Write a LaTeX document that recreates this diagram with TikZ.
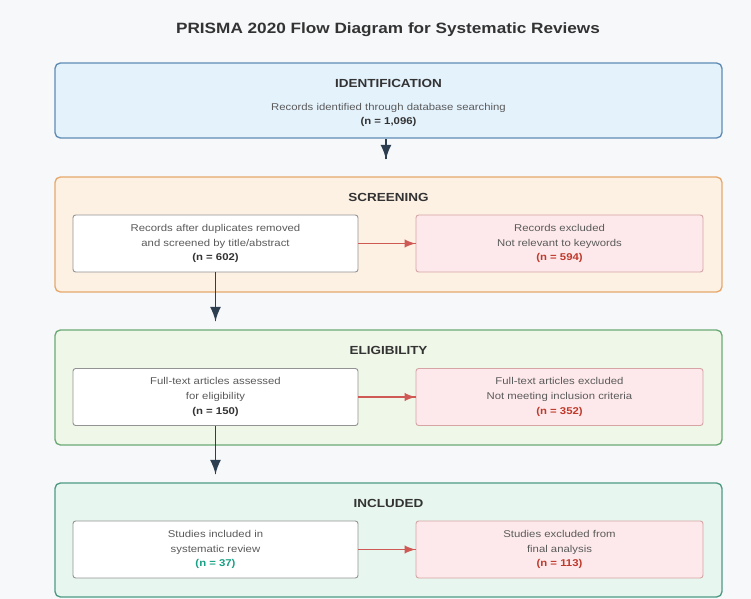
\documentclass[tikz,border=0pt]{standalone}
\usepackage{fontspec}
\setmainfont{Liberation Sans}[FakeStretch=1.15]
\usepackage{tikz}
\usetikzlibrary{arrows}
\usetikzlibrary{decorations.markings}
\usetikzlibrary{positioning}
\definecolor{bggray}{HTML}{F7F8FA}
\definecolor{navy}{HTML}{2C3E50}
\definecolor{darkgray}{HTML}{333333}
\definecolor{txtgray}{HTML}{5A5A5A}
\definecolor{idfill}{HTML}{E4F2FC}
\definecolor{iddraw}{HTML}{5E8CB4}
\definecolor{scfill}{HTML}{FDF1E4}
\definecolor{scdraw}{HTML}{E6A86C}
\definecolor{elfill}{HTML}{EFF7E8}
\definecolor{eldraw}{HTML}{6CAA76}
\definecolor{infill}{HTML}{E7F6EE}
\definecolor{indraw}{HTML}{4E9A84}
\definecolor{exfill}{HTML}{FDE9EB}
\definecolor{exdraw}{HTML}{D6A4A4}
\definecolor{redn}{HTML}{C0392B}
\definecolor{redarrow}{HTML}{CF5A55}
\definecolor{tealn}{HTML}{16A085}
\tikzset{stage/.style = {rectangle, rounded corners=4pt, line width=1pt,
                         minimum width=500.25pt, inner sep=0}}
\tikzset{stagetitle/.style = {font=\fontsize{8.8}{10}\selectfont\bfseries, text=darkgray}}
\tikzset{recbox/.style = {rectangle, rounded corners=2pt, draw=gray!85, fill=white,
                          line width=0.7pt, minimum width=213.75pt, minimum height=42.75pt,
                          align=center, text=txtgray, font=\fontsize{7.4}{11}\selectfont}}
\tikzset{exbox/.style = {recbox, draw=exdraw, fill=exfill, minimum width=215.25pt}}
\tikzset{down/.style = {navy, line width=1.2pt, decoration={markings,
                        mark=at position 1 with {\arrow[scale=1.7]{latex}}},
                        postaction={decorate}}}
\tikzset{side/.style = {redarrow, line width=0.9pt, decoration={markings,
                        mark=at position 1 with {\arrow[scale=1.5]{latex}}},
                        postaction={decorate}}}

\begin{document}
\begin{tikzpicture}[x=0.75pt, y=-0.75pt]
      \fill [bggray] (0, 0) rectangle (751, 599);
      \useasboundingbox (0, 0) rectangle (751, 599);

      \node [font=\fontsize{11.2}{13}\selectfont\bfseries, text=darkgray] (title) at (388, 30)
        {PRISMA 2020 Flow Diagram for Systematic Reviews};

      % stages
      \node [stage, draw=iddraw, fill=idfill, minimum height=56.25pt] (ident) at (388.5, 100.5) {};
      \node [stage, draw=scdraw, fill=scfill, minimum height=86.25pt] (screen) at (388.5, 234.5) {};
      \node [stage, draw=eldraw, fill=elfill, minimum height=86.25pt] (elig) at (388.5, 387.5) {};
      \node [stage, draw=indraw, fill=infill, minimum height=85.5pt] (incl) at (388.5, 540) {};

      \node [stagetitle] (identtitle) at (388.5, 83) {IDENTIFICATION};
      \node [stagetitle] (screentitle) at (388.5, 197) {SCREENING};
      \node [stagetitle] (eligtitle) at (388.5, 350) {ELIGIBILITY};
      \node [stagetitle] (incltitle) at (388.5, 503) {INCLUDED};

      \node [align=center, text=txtgray, font=\fontsize{7.4}{11}\selectfont] (identtext) at (388.5, 115)
        {Records identified through database searching\\ \textbf{\color{darkgray}(n = 1,096)}};

      % boxes
      \node [recbox] (scrin) at (215.5, 243.5)
        {Records after duplicates removed\\ and screened by title/abstract\\ \textbf{\color{darkgray}(n = 602)}};
      \node [exbox] (scrout) at (559.5, 243.5)
        {Records excluded\\ Not relevant to keywords\\ \textbf{\color{redn}(n = 594)}};
      \node [recbox] (eligin) at (215.5, 397)
        {Full-text articles assessed\\ for eligibility\\ \textbf{\color{darkgray}(n = 150)}};
      \node [exbox] (eligout) at (559.5, 397)
        {Full-text articles excluded\\ Not meeting inclusion criteria\\ \textbf{\color{redn}(n = 352)}};
      \node [recbox] (inclin) at (215.5, 549.5)
        {Studies included in\\ systematic review\\ \textbf{\color{tealn}(n = 37)}};
      \node [exbox] (inclout) at (559.5, 549.5)
        {Studies excluded from\\ final analysis\\ \textbf{\color{redn}(n = 113)}};

      % arrows
      \coordinate (identend) at ([xshift=-1.9pt, yshift=12.75pt]screen.north);
      \coordinate (scrend) at ([yshift=6pt]scrin.south |- elig.north);
      \coordinate (eligend) at ([yshift=6pt]eligin.south |- incl.north);
      \draw [down] ([xshift=-1.9pt]ident.south) -- (identend);
      \draw [down] (scrin.south) -- (scrend);
      \draw [down] (eligin.south) -- (eligend);
      \foreach \a/\b in {scrin/scrout, eligin/eligout, inclin/inclout} {
        \draw [side] (\a.east) -- (\b.west);
      }
    \end{tikzpicture}
\end{document}
